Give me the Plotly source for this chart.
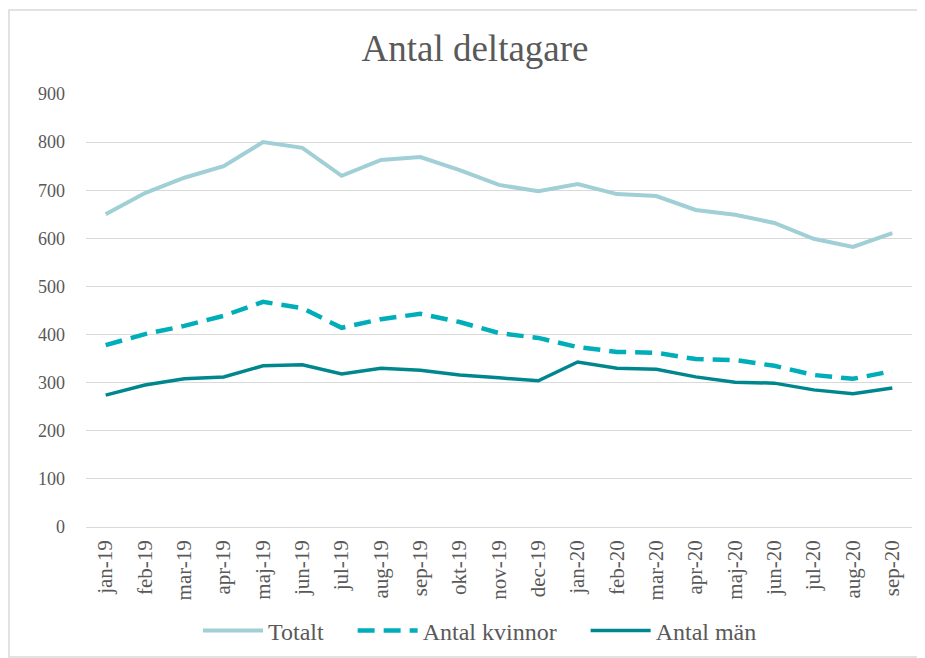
import plotly.graph_objects as go

months = ["jan-19", "feb-19", "mar-19", "apr-19", "maj-19", "jun-19", "jul-19",
          "aug-19", "sep-19", "okt-19", "nov-19", "dec-19", "jan-20", "feb-20",
          "mar-20", "apr-20", "maj-20", "jun-20", "jul-20", "aug-20", "sep-20"]
totalt = [650, 694, 726, 750, 800, 788, 730, 763, 769, 742, 711, 698, 713, 692,
          688, 659, 649, 632, 599, 582, 611]
kvinnor = [378, 401, 418, 439, 468, 455, 414, 432, 443, 426, 403, 393, 374, 364,
           362, 349, 347, 335, 316, 308, 324]
man = [274, 295, 308, 312, 335, 337, 318, 330, 326, 316, 310, 304, 343, 330,
       328, 312, 301, 299, 285, 277, 289]
y_ticks = [0, 100, 200, 300, 400, 500, 600, 700, 800, 900]

font_family = "Liberation Serif, Times New Roman, serif"
txt = "#595959"
pad = "\u00a0" * 4

fig = go.Figure()
fig.add_trace(go.Scatter(x=months, y=totalt, mode="lines", name="Totalt" + pad,
                         line=dict(color="#A0CFD6", width=4)))
fig.add_trace(go.Scatter(x=months, y=kvinnor, mode="lines", name="Antal kvinnor" + pad,
                         line=dict(color="#00AEBA", width=4.5, dash="17px,9px")))
fig.add_trace(go.Scatter(x=months, y=man, mode="lines", name="Antal män",
                         line=dict(color="#00878E", width=3.5)))

L, T, R, B = 78, 86, 21, 139
pw, ph = 925 - L - R, 658 - T - B

fig.update_layout(
    width=925, height=658,
    margin=dict(l=L, r=R, t=T, b=B),
    paper_bgcolor="white", plot_bgcolor="white",
    font=dict(family=font_family, color=txt, size=18),
    title=dict(text="Antal deltagare", x=(475 - 8 - L) / pw, xref="paper", xanchor="center",
               y=1 - 40 / 658, yanchor="middle", yref="container",
               font=dict(size=37, color=txt, family=font_family)),
    showlegend=True,
    legend=dict(orientation="h", x=(480 - 8 - L) / pw, xanchor="center",
                y=(ph + T - 623) / ph, yanchor="middle",
                font=dict(size=24, color=txt), itemwidth=60),
    xaxis=dict(type="category", range=[-0.5, 20.5], tickangle=-90, showgrid=False,
               showline=False, ticks="", ticklabelstandoff=8,
               tickfont=dict(size=21, color=txt)),
    yaxis=dict(range=[0, 900], tickvals=y_ticks, showgrid=True, gridcolor="#D9D9D9",
               gridwidth=1, zeroline=True, zerolinecolor="#D9D9D9", zerolinewidth=1,
               showline=False, ticks="", ticklabelstandoff=20,
               tickfont=dict(size=18, color=txt)),
    shapes=[dict(type="rect", xref="paper", yref="paper",
                 x0=(1 - L) / pw, x1=(912 - L) / pw,
                 y0=(ph + T - 649) / ph, y1=(ph + T - 2) / ph,
                 line=dict(color="#D9D9D9", width=1.5), fillcolor="rgba(0,0,0,0)",
                 layer="below")],
)

fig.write_html("out.html")
